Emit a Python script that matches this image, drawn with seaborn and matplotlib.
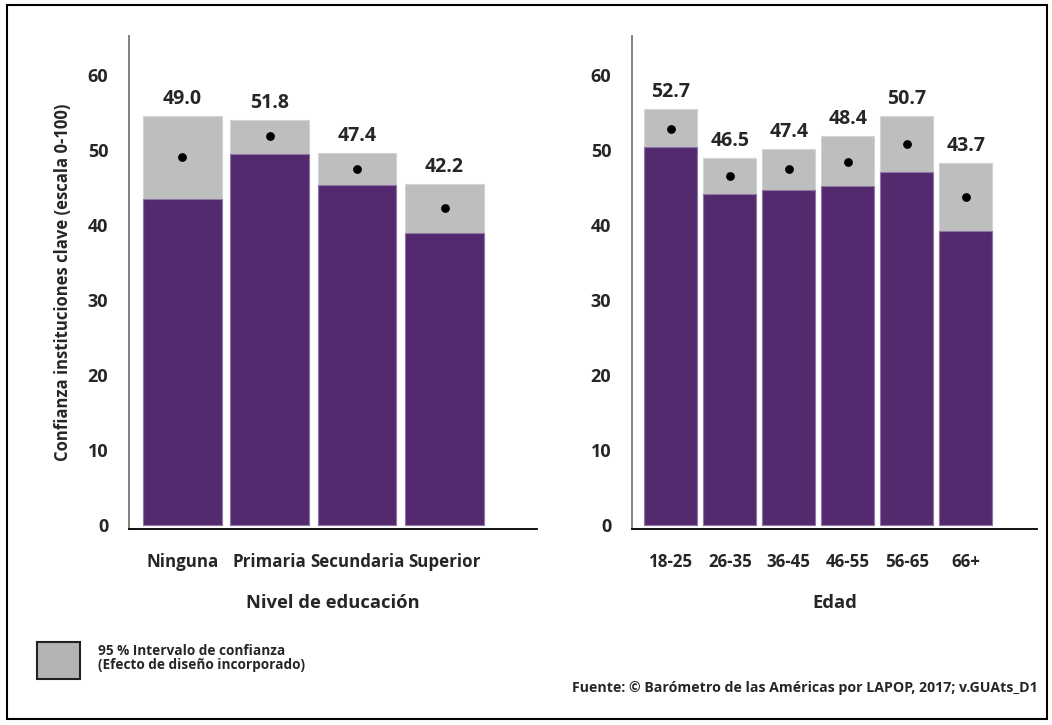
import numpy as np
import pandas as pd
import matplotlib
matplotlib.use('Agg')
from matplotlib import pyplot as plt
from matplotlib.patches import Rectangle
import seaborn as sns

# data
edu_labels = ['Ninguna', 'Primaria', 'Secundaria', 'Superior']
edu_mean = [49.0, 51.8, 47.4, 42.2]
edu_lower = [43.4, 49.5, 45.3, 38.9]
edu_upper = [54.5, 54.0, 49.6, 45.5]

age_labels = ['18-25', '26-35', '36-45', '46-55', '56-65', '66+']
age_mean = [52.7, 46.5, 47.4, 48.4, 50.7, 43.7]
age_lower = [50.3, 44.1, 44.6, 45.2, 47.0, 39.2]
age_upper = [55.4, 48.9, 50.1, 51.8, 54.5, 48.2]

PURPLE = '#532a6e'
GRAY = '#bebebe'

sns.set_style('white')
plt.rcParams['font.family'] = ['Open Sans', 'DejaVu Sans']
plt.rcParams['font.weight'] = 'bold'
plt.rcParams['axes.labelweight'] = 'bold'


def ci_panel(ax, labels, mean, lower, upper, xlabel, xlim):
    df = pd.DataFrame({'cat': labels, 'mean': mean, 'lower': lower, 'upper': upper})
    sns.barplot(data=df, x='cat', y='upper', color=GRAY, saturation=1, width=0.9,
                edgecolor='#d4d4d4', linewidth=0.8, ax=ax)
    sns.barplot(data=df, x='cat', y='lower', color=PURPLE, saturation=1, width=0.9,
                edgecolor='#8f77a6', linewidth=0.8, ax=ax)
    pos = np.arange(len(df))
    ax.scatter(pos, df['mean'], s=28, color='black', zorder=5)
    for p, m, u in zip(pos, df['mean'], df['upper']):
        ax.annotate(f'{m:.1f}', (p, u), xytext=(0, 5), textcoords='offset points',
                    ha='center', va='bottom', fontsize=14)
    ax.set_ylim(-0.5, 65.2)
    ax.set_xlim(*xlim)
    ax.set_yticks(range(0, 61, 10))
    ax.tick_params(axis='y', length=5, width=1, color='#777777', pad=10, labelsize=13)
    ax.tick_params(axis='x', length=0, pad=17, labelsize=12.2)
    ax.set_xlabel(xlabel, fontsize=13.2, fontweight='bold', labelpad=17)
    ax.set_ylabel('')
    for s in ('top', 'right'):
        ax.spines[s].set_visible(False)
    ax.spines['left'].set_color('#777777')
    ax.spines['left'].set_linewidth(1.3)
    ax.spines['bottom'].set_color('black')
    ax.spines['bottom'].set_linewidth(1.3)


fig = plt.figure(figsize=[10.52, 7.25], dpi=100)
fig.set_facecolor('white')
ax1 = fig.add_axes([0.1226, 0.270, 0.388, 0.681])
ax2 = fig.add_axes([0.6008, 0.270, 0.385, 0.681])

ci_panel(ax1, edu_labels, edu_mean, edu_lower, edu_upper, 'Nivel de educación', (-0.61, 4.06))
ci_panel(ax2, age_labels, age_mean, age_lower, age_upper, 'Edad', (-0.66, 6.21))
ax1.set_ylabel('Confianza instituciones clave (escala 0-100)', fontsize=12,
               fontweight='bold', labelpad=11)

# legend box
fig.patches.append(Rectangle((37 / 1052, 1 - 679 / 725), 43 / 1052, 37 / 725,
                             transform=fig.transFigure, facecolor='#b4b4b4',
                             edgecolor='#222222', linewidth=1.5))
fig.text(98 / 1052, 1 - 658 / 725, '95 % Intervalo de confianza\n(Efecto de diseño incorporado)',
         fontsize=9.8, fontweight='bold', va='center', ha='left', linespacing=0.95)

fig.text(1038 / 1052, 1 - 688 / 725,
         'Fuente: © Barómetro de las Américas por LAPOP, 2017; v.GUAts_D1',
         fontsize=10.2, fontweight='bold', ha='right', va='center')

# outer frame
fig.patches.append(Rectangle((7 / 1052, 1 - 719 / 725), 1040 / 1052, 714 / 725,
                             transform=fig.transFigure, fill=False,
                             edgecolor='black', linewidth=1.5))

plt.savefig('out.png', dpi=100)
